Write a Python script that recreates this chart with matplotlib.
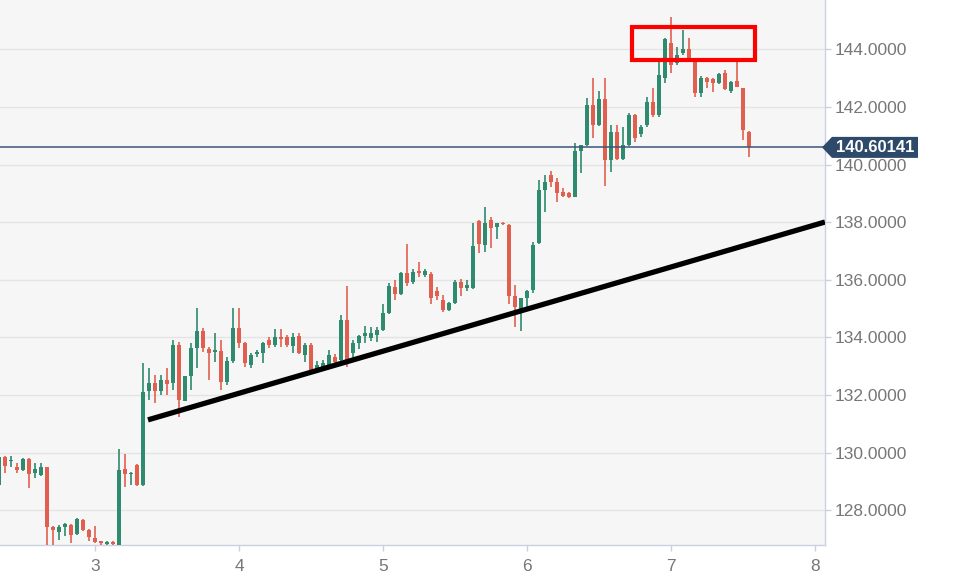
import matplotlib
matplotlib.use("Agg")
import matplotlib.pyplot as plt
import numpy as np
from matplotlib.patches import Rectangle, Polygon
import matplotlib.transforms as mtransforms

# hourly candles, first one 16 hours before day 3
first_hour = -16
opens = [128.88, 129.86, 129.70, 129.51, 129.40, 129.77, 129.30, 129.22, 129.49, 127.42,
         127.26, 127.43, 127.49, 127.18, 127.66, 127.32, 127.03, 126.92, 126.84, 126.90,
         126.70, 129.42, 129.25, 129.57, 128.88, 132.15, 132.41, 132.15, 132.52, 132.41,
         133.74, 131.81, 132.66, 133.65, 134.23, 133.59, 133.51, 133.54, 132.47, 133.20,
         134.32, 133.82, 133.05, 133.42, 133.45, 133.90, 133.74, 134.02, 134.03, 133.71,
         134.05, 133.39, 133.74, 132.87, 132.99, 133.05, 133.33, 133.22, 134.60, 133.45,
         133.80, 134.05, 133.97, 134.09, 134.26, 134.84, 135.77, 135.51, 136.25, 135.94,
         136.32, 136.17, 136.21, 135.60, 135.30, 134.96, 135.21, 135.94, 135.71, 135.71,
         138.05, 137.21, 138.08, 137.85, 137.99, 137.91, 135.43, 134.95, 135.36, 135.65,
         137.27, 139.12, 139.64, 139.41, 139.06, 139.00, 138.89, 140.49, 140.68, 142.07,
         141.38, 142.27, 140.16, 141.15, 140.19, 140.68, 141.73, 141.07, 141.38, 142.19,
         141.73, 143.00, 144.24, 143.52, 143.87, 144.00, 143.64, 142.48, 143.00, 142.97,
         142.83, 143.17, 142.57, 142.92, 142.65, 141.15]
highs = [129.90, 129.88, 129.88, 129.65, 129.80, 129.80, 129.63, 129.63, 129.52, 127.45,
         127.49, 127.56, 127.52, 127.73, 127.70, 127.35, 127.45, 126.95, 126.93, 126.94,
         130.12, 129.96, 129.33, 129.60, 133.10, 132.93, 132.70, 132.70, 132.93, 133.91,
         133.86, 132.68, 133.82, 135.01, 134.32, 133.68, 134.17, 133.91, 133.31, 135.01,
         135.01, 133.86, 133.45, 133.57, 133.86, 134.03, 134.28, 134.28, 134.09, 134.15,
         134.17, 133.80, 133.80, 133.18, 133.22, 133.57, 133.43, 134.78, 135.79, 133.91,
         134.09, 134.40, 134.38, 134.38, 135.16, 135.88, 136.00, 136.29, 137.25, 136.37,
         136.63, 136.37, 136.29, 135.74, 135.48, 135.24, 136.00, 136.02, 136.00, 137.99,
         138.08, 138.54, 138.20, 137.96, 138.00, 137.93, 135.84, 135.38, 135.65, 137.33,
         139.47, 139.64, 139.79, 139.53, 139.18, 139.05, 140.74, 140.70, 142.30, 143.00,
         142.57, 143.00, 141.38, 141.38, 141.32, 141.81, 141.76, 141.38, 142.36, 142.65,
         143.70, 144.40, 145.14, 144.10, 144.68, 144.39, 143.66, 143.08, 143.05, 143.00,
         143.20, 143.29, 142.92, 143.66, 142.68, 141.18]
lows = [128.85, 129.28, 129.50, 129.28, 129.38, 128.76, 129.11, 129.20, 126.70, 126.75,
        126.97, 127.10, 126.85, 127.15, 127.28, 126.94, 126.85, 126.75, 126.75, 126.75,
        126.65, 128.82, 128.88, 128.85, 128.85, 131.83, 131.71, 132.00, 132.00, 132.18,
        131.25, 131.78, 132.18, 132.93, 133.51, 132.52, 133.16, 132.18, 132.35, 133.10,
        133.62, 132.99, 132.93, 133.32, 133.13, 133.62, 133.68, 133.68, 133.68, 133.45,
        133.43, 133.16, 132.85, 132.85, 132.93, 132.99, 133.10, 133.10, 132.99, 133.28,
        133.59, 133.82, 133.89, 133.86, 134.24, 134.82, 135.30, 135.48, 135.79, 135.86,
        136.11, 136.10, 135.16, 135.30, 134.90, 134.92, 135.18, 135.44, 135.63, 135.67,
        136.93, 136.98, 137.10, 137.41, 137.90, 135.16, 134.38, 134.24, 135.07, 135.53,
        137.25, 138.35, 139.21, 138.72, 138.87, 138.83, 138.87, 139.70, 140.65, 140.91,
        141.34, 139.26, 139.76, 140.16, 140.16, 140.65, 140.80, 140.95, 141.32, 141.67,
        141.67, 142.82, 143.20, 143.46, 143.81, 143.60, 142.36, 142.36, 142.65, 142.54,
        142.80, 142.60, 142.50, 142.69, 140.86, 140.28]
closes = [129.86, 129.54, 129.74, 129.40, 129.77, 129.26, 129.42, 129.49, 127.41, 127.32,
          127.43, 127.52, 127.14, 127.69, 127.32, 127.06, 126.91, 126.85, 126.90, 126.84,
          129.40, 129.25, 129.30, 128.88, 132.12, 132.43, 132.15, 132.52, 132.39, 133.74,
          131.83, 132.66, 133.65, 134.23, 133.62, 133.45, 133.57, 132.47, 133.20, 134.32,
          133.80, 133.10, 133.39, 133.51, 133.80, 133.75, 134.01, 133.95, 133.74, 134.01,
          133.45, 133.74, 132.87, 133.04, 133.10, 133.39, 133.16, 134.61, 133.20, 133.80,
          134.05, 134.17, 134.17, 134.26, 134.84, 135.79, 135.51, 136.25, 135.88, 136.29,
          136.23, 136.32, 135.36, 135.45, 134.96, 135.21, 135.94, 135.71, 135.82, 137.18,
          137.25, 137.96, 137.79, 137.96, 137.93, 135.45, 135.05, 135.36, 135.63, 137.21,
          139.12, 139.41, 139.41, 139.03, 138.91, 138.89, 140.47, 140.68, 142.07, 141.38,
          142.27, 140.16, 141.15, 140.19, 140.68, 141.73, 140.91, 141.32, 142.19, 141.73,
          143.11, 144.35, 143.45, 143.81, 144.01, 143.70, 142.48, 143.00, 142.88, 142.83,
          143.14, 142.62, 142.88, 142.69, 141.20, 140.60]

last_price = 140.60141
trend_x = [3.368, 8.069]
trend_y = [131.14, 138.01]
box_x = [6.729, 7.583]
box_y = [143.64, 144.78]
x_ticks = [3, 4, 5, 6, 7, 8]
y_ticks = [128, 130, 132, 134, 136, 138, 140, 142, 144]

GREEN = "#2e8b70"
RED = "#e15f4f"
GRAY = "#777777"
EDGE = "#c9d1e3"

plt.rcParams["font.family"] = ["Liberation Sans", "DejaVu Sans"]

fig = plt.figure(figsize=(9.54, 5.79), dpi=100)
ax = fig.add_axes([0, 1 - 545 / 579, 825 / 954, 545 / 579])
ax.set_facecolor("#f6f6f6")

# candle positions in days
t = 3 + (np.arange(len(opens)) + first_hour) / 24
o = np.array(opens)
c = np.array(closes)
up = c >= o
cols = np.where(up, GREEN, RED)

ax.vlines(t, lows, highs, colors=cols, linewidth=1.2, zorder=3)
bottoms = np.minimum(o, c)
heights = np.maximum(np.abs(c - o), 0.04)
ax.bar(t, heights, bottom=bottoms, width=0.031, color=cols, linewidth=0, zorder=4)

# last price line
ax.axhline(last_price, color="#3a5578", linewidth=1.1, zorder=5)

# trend line
ax.plot(trend_x, trend_y, color="black", linewidth=3.8, solid_capstyle="butt", zorder=6)

# red box
ax.add_patch(Rectangle((box_x[0], box_y[0]), box_x[1] - box_x[0], box_y[1] - box_y[0],
                       fill=False, edgecolor="#ff0000", linewidth=3, zorder=7))

ax.set_xlim(3 - 95 / 144, 3 + 730 / 144)
ax.set_ylim(144 - 495.5 / 28.8, 144 + 49.5 / 28.8)

ax.set_xticks(x_ticks)
ax.set_yticks(y_ticks)
ax.set_yticklabels([f"{v:.4f}" for v in y_ticks])
ax.yaxis.tick_right()
ax.tick_params(axis="both", colors=GRAY, labelsize=12.5, length=4, width=1)
ax.tick_params(axis="y", pad=3, colors=EDGE, labelcolor=GRAY)
ax.tick_params(axis="x", pad=6, colors=EDGE, labelcolor=GRAY)
ax.grid(axis="y", color="#e4e4e4", linewidth=1)
ax.set_axisbelow(True)
for s in ["top", "left"]:
    ax.spines[s].set_visible(False)
for s in ["right", "bottom"]:
    ax.spines[s].set_color(EDGE)
    ax.spines[s].set_linewidth(1)

# price tag on the right axis
trans = mtransforms.blended_transform_factory(ax.transAxes, ax.transData)
h = 10.5 / 28.8
x0 = 822 / 825
x1 = 832 / 825
x2 = 918 / 825
tag = Polygon([(x0, last_price), (x1, last_price + h), (x2, last_price + h),
               (x2, last_price - h), (x1, last_price - h)],
              closed=True, transform=trans, facecolor="#2d4a6b", edgecolor="none",
              clip_on=False, zorder=8)
ax.add_patch(tag)
ax.text(875 / 825, last_price, f"{last_price:.5f}", transform=trans, color="white",
        fontsize=12, fontweight="bold", ha="center", va="center", zorder=9, clip_on=False)

fig.savefig("out.png", dpi=100)
